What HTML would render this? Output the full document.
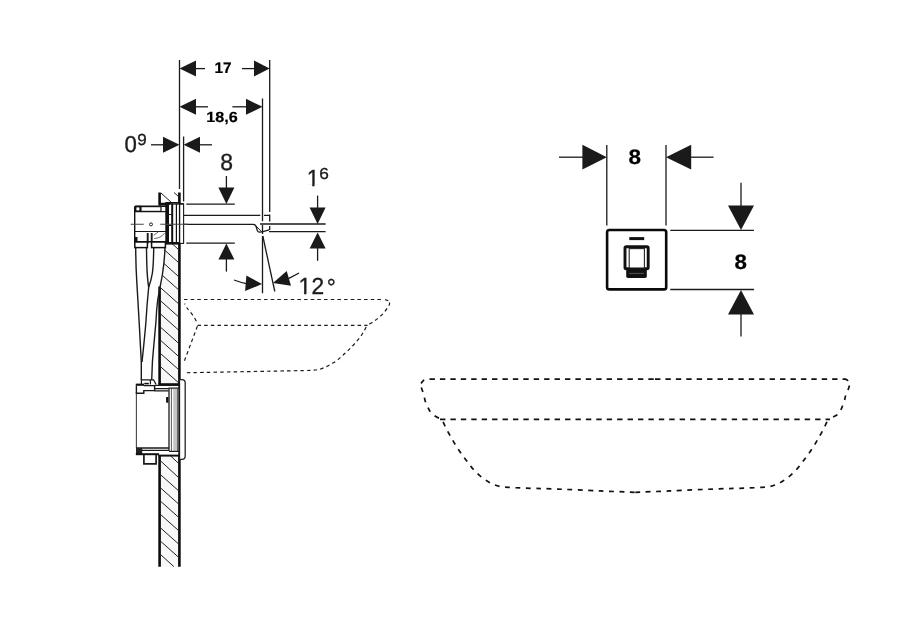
<!DOCTYPE html>
<html lang="en">
<head>
<meta charset="utf-8">
<title>Wall-mounted tap – dimensional drawing</title>
<style>
html,body{margin:0;padding:0;background:#fff;}
body{width:913px;height:630px;overflow:hidden;font-family:"Liberation Sans",sans-serif;}
svg{display:block;position:absolute;left:0;top:0;will-change:transform;}
.t{font-family:"Liberation Sans",sans-serif;fill:#1c1c1c;stroke:#1c1c1c;stroke-width:0.35;text-rendering:geometricPrecision;}
.b{font-weight:bold;fill:#000;stroke:#000;stroke-width:0.2;}
.ln{stroke:#1a1a1a;stroke-width:1.3;fill:none;}
.thin{stroke:#333;stroke-width:0.9;fill:none;}
.wall{stroke:#0d0d0d;stroke-width:2.6;fill:none;}
.hatch{stroke:#222;stroke-width:1;fill:none;}
.ar{fill:#1a1a1a;stroke:none;}
.ds{stroke:#1a1a1a;stroke-width:1.2;fill:none;stroke-dasharray:3.5 3.17;}
.df{stroke:#111;stroke-width:1.7;fill:none;stroke-dasharray:5.4 5.02;}
.m{stroke:#1a1a1a;stroke-width:1.2;fill:none;}
.hose{stroke:#1a1a1a;stroke-width:1.4;fill:none;}
.mk{stroke:#111;stroke-width:2;fill:none;}
</style>
</head>
<body>
<svg width="913" height="630" viewBox="0 0 913 630">
<rect width="913" height="630" fill="#fff"/>

<!-- ===== dimension lines (side view) ===== -->
<g id="dims-side">
  <path class="ln" d="M179.5 60V189"/>
  <path class="ln" d="M269.7 60V212M269.7 214.5V221.5M269.7 226V230"/>
  <path class="ln" d="M262.5 98.5V221.3M262.5 225V234M262.5 236V293.2"/>
  <path class="ln" d="M183.6 136.5V201.5"/>
  <path class="ln" d="M262.8 236L274.8 291.5"/>

  <!-- 17 -->
  <path class="ar" d="M179.5 68.6L196 60.6V76.6Z"/>
  <path class="ln" d="M196 68.6H205"/>
  <path class="ar" d="M269.6 68.6L254 60.6V76.6Z"/>
  <path class="ln" d="M242 68.6H254"/>
  <!-- 18,6 -->
  <path class="ar" d="M179.5 106.8L196 98.8V114.8Z"/>
  <path class="ln" d="M196 106.8H208"/>
  <path class="ar" d="M262.5 106.8L246 98.8V114.8Z"/>
  <path class="ln" d="M232.4 106.8H246"/>
  <!-- 0 9 -->
  <path class="ar" d="M179.5 144.8L163 136.8V152.8Z"/>
  <path class="ln" d="M151 144.8H163"/>
  <path class="ar" d="M183.6 144.8L200 136.8V152.8Z"/>
  <path class="ln" d="M200 144.8H212"/>
  <!-- 8 vertical -->
  <path class="ln" d="M186.3 204.1H234.8M186.3 243.2H234.8"/>
  <path class="ar" d="M226.4 204L218.4 187.6H234.4Z"/>
  <path class="ln" d="M226.4 176V188"/>
  <path class="ar" d="M226.4 243.5L218.4 259.6H234.4Z"/>
  <path class="ln" d="M226.4 259V271.6"/>
  <!-- 1 6 -->
  <path class="ln" d="M260 224H325.6M269 231.6H325.6"/>
  <path class="ar" d="M317.6 224L309.6 207.4H325.6Z"/>
  <path class="ln" d="M317.6 195.6V208"/>
  <path class="ar" d="M317.6 232.4L309.6 248.6H325.6Z"/>
  <path class="ln" d="M317.6 248V260.8"/>
  <!-- 12 deg -->
  <path class="ar" d="M262 284.1L246.4 275.6L245.1 291.1Z"/>
  <path class="ln" d="M234 280Q240 282.3 246.4 283.6"/>
  <path class="ar" d="M273 282.9L286.7 270.9L291 285.8Z"/>
  <path class="ln" d="M288.4 278.6L299.1 273"/>
</g>

<!-- ===== wall ===== -->
<g id="wall">
  <path d="M159.6 286H179.4V384H159.6ZM159.6 455H179.4V566.8H159.6ZM165 248H179.4V286H159.6Z" fill="#f8f8f8"/>
  <path class="wall" d="M159.6 192.5V205.5M159.6 286.5V384M159.6 455V566.8"/>
  <path class="wall" d="M179.4 192.5V204M179.4 243V384M179.4 455V566.8"/>
  <path class="hatch" d="M161 193L172 203M174 192.5L179 197"/>
  <path class="hatch" d="M172 243.5L178.5 249.5M164.5 250L178.5 262.5M164 263.5L178.5 276.5M162.5 275.5L178.5 289.7M160.3 287.5L178.5 303.7M160.3 300.6L178.5 316.8M160.3 313.8L178.5 330M160.3 327L178.5 343.2M160.3 340.1L178.5 356.3M160.3 353.3L178.5 369.5M160.3 366.5L178.5 382.7"/>
  <path class="hatch" d="M170.7 456L178.6 463.4M161 461.3L178.5 477.5M160.3 474.5L178.5 490.7M160.3 487.7L178.5 503.9M160.3 501L178.5 517.2M160.3 514.3L178.5 530.5M160.3 527.7L178.5 543.9M160.3 541L178.5 557.2M160.3 554.3L173.8 566.6"/>
</g>

<!-- ===== tap body (side view) ===== -->
<g id="tap-side">
  <!-- spout -->
  <path class="m" d="M183.6 215.3H260.3M264 215.3H269.7"/>
  <path class="m" style="stroke-width:1.3" d="M183.6 224.3H253Q255.7 224.4 256.3 227L257.3 230.6Q257.8 232.4 260 232.2L263 231.6L269.2 229.8"/>
  <path class="m" style="stroke-width:1" d="M254.5 224.6L261.5 231.6"/>
  <!-- cover plate -->
  <rect x="179.6" y="203.8" width="4" height="39.6" fill="#fff" stroke="#1a1a1a" stroke-width="1.1"/>
  <!-- flange stack -->
  <rect x="166" y="202.6" width="13.5" height="41.4" fill="#fff" stroke="#111" stroke-width="1.2"/>
  <path d="M159.6 202.8H172.5L168 205.6H159.6Z" fill="#111"/><path d="M168 203.2H183.6V204.6H168Z" fill="#111"/>
  <path d="M165.6 204H169V243.5H165.6Z" fill="#111"/>
  <path d="M171.2 204H173.2V243.5H171.2Z" fill="#111"/>
  <path d="M175.8 204H177V243.5H175.8Z" fill="#111"/>
  <path class="m" d="M166 214.5H172M166 225.5H172"/>
  <path d="M166 242H180V244H166Z" fill="#111"/>
  <!-- housing -->
  <rect x="134.7" y="206.2" width="31.3" height="35.6" rx="1.2" fill="#fff" stroke="#111" stroke-width="1.4"/>
  <path class="m" d="M134.6 211.6H166M134.6 231.5H166"/>
  <rect x="141" y="206.6" width="20" height="4.8" fill="#fff" stroke="#111" stroke-width="1.2"/>
  <rect x="135.6" y="206.6" width="4.6" height="4.6" fill="#fff" stroke="#111" stroke-width="1.6"/>
  <path class="m" style="stroke-width:1.9" d="M147.7 233V243.6M151.7 233V243.6"/>
  <path class="thin" style="stroke:#555" d="M154 238.4Q160.5 238.6 164.5 233.2M153.6 235.4L158.6 231.6"/>
  <circle cx="151" cy="224.4" r="1.5" fill="none" stroke="#222" stroke-width="1"/>
  <path class="thin" style="stroke-width:1.1;stroke:#444" d="M130.7 224.2H143.7M160.3 224.2H188"/>
  <!-- connectors -->
  <rect x="134.8" y="242" width="12.6" height="5.6" fill="#fff" stroke="#111" stroke-width="1.5"/>
  <rect x="151.6" y="242" width="13.8" height="5.6" fill="#fff" stroke="#111" stroke-width="1.5"/>
  <path d="M134 237H137.5V242H134Z" fill="#111"/>
  <!-- hoses -->
  <path class="hose" d="M135.7 248C135.8 262 136.2 272 136.7 280C137.4 294 138.4 308 139.1 321C139.9 335 140.6 349 141.3 362V380"/>
  <path class="hose" d="M146.5 248C146.6 258 146.8 268 147.4 276C147.8 281 148.2 284.5 148.7 287.3"/>
  <path class="hose" d="M153.7 248C153.6 258 153.3 266 152.4 273C151.5 279 150 283.5 148.7 287.3C147.6 298 146.6 310 146 321C144.8 336 143.3 350 142 362"/>
  <path class="hose" d="M164.9 248C164.7 257 163.8 266 162.4 274.5C161.2 281.5 159.4 290 157.7 300C156.8 307 156.3 314 156 321C154.8 335 153.4 349 152.4 362L151.7 380"/>
</g>

<!-- ===== lower box (side view) ===== -->
<g id="box-side">
  <path d="M179.5 379.6H182Q185.2 379.6 185.2 382.8V456Q185.2 459.3 182 459.3H179.5Z" fill="#fff" stroke="#222" stroke-width="1.3"/>
  <path class="m" style="stroke-width:1.6" d="M179.1 384V455"/>
  <path d="M173.2 389H176.8V451H173.2Z" fill="#c4c4c4"/>
  <path class="m" style="stroke-width:1.3" d="M169 388.5V451"/>
  <path class="thin" style="stroke:#444" d="M171.4 388.5V451M177.4 388.5V451"/>
  <path class="thin" style="stroke-width:1.1;stroke:#444" d="M136.4 392V448"/>
  <!-- top of box -->
  <path class="m" d="M141.4 384V379.8H153.6L156 384.4M150.4 379.8V384.4"/>
  <path d="M144.3 382.8H148.8V384.4H144.3Z" fill="#111"/>
  <path d="M135.8 383.6H144V385.8H135.8Z" fill="#111"/>
  <path d="M158.3 383.2H180V385.2H158.3Z" fill="#111"/>
  <path class="m" style="stroke-width:1.4" d="M136.4 385.5V393.2H143.8V390.6H154.6V385.6H143.8"/>
  <path class="m" d="M154.6 385.4H179M154.6 388.6H168.5M154.6 390.8H168.5M168.5 388.2H179"/>
  <path d="M166.1 397H168.4V402.7H166.1Z" fill="#111"/>
  <!-- bottom of box -->
  <path class="m" style="stroke-width:1.4" d="M136 448H169M136 450.4H169M141.5 448V454"/>
  <path d="M136 448H141.5V454.5H136Z" fill="#222"/>
  <path class="m" d="M169 451.4H179"/>
  <path d="M135.8 453.2H159V455.2H135.8Z" fill="#111"/>
  <path d="M158.3 454.6H180V456.6H158.3Z" fill="#111"/>
  <path class="m" style="stroke-width:1.7" d="M143.9 455V463.9H156.1V455"/>
</g>

<!-- ===== basin side view (dashed) ===== -->
<g id="basin-side">
  <path class="ds" d="M184 299.5H383.5"/>
  <path class="ds" style="stroke-dasharray:none" d="M385.2 299.6L388.3 300.8"/>
  <path class="ds" stroke-dashoffset="-1.6" d="M388.6 301.2C388.8 301.6 389.7 302.8 389.6 303.8C389.5 304.8 388.9 305.6 388.0 307.0C387.1 308.4 385.5 310.8 384.0 312.5C382.5 314.2 380.8 316.0 379.0 317.5C377.2 319.0 375.3 320.3 373.5 321.5C371.7 322.7 368.9 324.2 368.0 324.8"/>
  <path class="ds" d="M197.5 325.4H367.5"/>
  <path class="ds" stroke-dashoffset="2.4" d="M184.6 303.6C185.0 304.3 186.2 306.8 187.0 308.0C187.8 309.2 188.3 309.5 189.5 311.0C190.7 312.5 192.7 315.0 194.0 317.0C195.3 319.0 196.7 322.0 197.2 323.0"/>
  <path class="ds" stroke-dashoffset="-0.6" d="M197.6 325.6L184.4 360.8"/>
  <path class="ds" stroke-dashoffset="-1" d="M366.5 326.2C366.2 326.9 365.4 328.6 364.5 330.2C363.6 331.8 362.3 334.1 361.0 336.0C359.7 337.9 358.0 339.8 356.5 341.5C355.0 343.2 353.6 344.8 352.0 346.5C350.4 348.2 348.7 349.9 347.0 351.5C345.3 353.1 343.7 354.5 342.0 356.0C340.3 357.5 338.8 359.2 337.0 360.5C335.2 361.8 333.4 362.7 331.5 363.8C329.6 364.9 327.5 366.1 325.5 367.0C323.5 367.9 321.7 368.8 319.5 369.3C317.3 369.8 314.8 370.0 312.5 370.2C310.2 370.4 311.4 370.4 306.0 370.5C300.6 370.6 300.2 370.6 280.0 371.0C259.8 371.4 200.8 372.5 185.0 372.8"/>
</g>

<!-- ===== front view ===== -->
<g id="front">
  <path class="ln" d="M606.8 145V225.6M666 145V225.6"/>
  <path class="ar" d="M606.8 157.2L582.4 144.8V169.6Z"/>
  <path class="ln" d="M559 157.2H583"/>
  <path class="ar" d="M666 157.2L691.2 144.8V169.6Z"/>
  <path class="ln" d="M691 157.2H713.6"/>
  <path class="ln" d="M670.3 230.3H754M670.3 289.5H754"/>
  <path class="ar" d="M741 230L728 205.5H754Z"/>
  <path class="ln" d="M741 182.8V206"/>
  <path class="ar" d="M741 290L728 314.4H754Z"/>
  <path class="ln" d="M741 314V336.6"/>
  <rect x="607.1" y="230" width="59.1" height="59.4" rx="2.2" ry="2.2" fill="#fff" stroke="#0a0a0a" stroke-width="2.6"/>
  <rect x="629.3" y="237.1" width="14.9" height="3" fill="#111"/>
  <rect x="625" y="246.8" width="23.2" height="22" rx="1.2" fill="#fff" stroke="#111" stroke-width="2.9"/>
  <rect x="629.2" y="248.6" width="15.2" height="19.4" fill="#fff" stroke="#222" stroke-width="1.1"/>
  <path d="M626.2 268.2H646.8V276.2Q646.8 278 645 278H628Q626.2 278 626.2 276.2Z" fill="#111"/>
  <path d="M629 273.4H644" stroke="#666" stroke-width="0.8"/>
</g>

<!-- ===== basin front view (dashed) ===== -->
<g id="basin-front">
  <path class="df" d="M429.5 379.2H654"/>
  <path class="df" d="M655 379.2H845.5"/>
  <path class="df" style="stroke-dasharray:none" d="M421 383.4L424 379.8M845 379.2Q847.3 379.5 848 381"/>
  <path class="df" style="stroke-dasharray:4.8 5.8" d="M421.3 387.5C421.6 388.3 422.5 390.8 423.0 392.5C423.5 394.2 424.1 396.3 424.5 398.0C424.9 399.7 425.1 400.9 425.7 402.5C426.3 404.1 427.2 405.9 428.0 407.5C428.8 409.1 429.3 410.6 430.5 412.0C431.7 413.4 433.4 414.9 435.0 416.0C436.6 417.1 439.2 418.2 440.0 418.6"/>
  <path class="df" style="stroke-dasharray:4.8 5.8" d="M849.5 385.5C849.2 386.2 848.7 388.2 848.0 390.0C847.3 391.8 846.1 394.2 845.5 396.0C844.9 397.8 845.0 398.8 844.5 400.5C844.0 402.2 843.1 404.5 842.5 406.0C841.9 407.5 841.8 408.1 841.0 409.5C840.2 410.9 838.8 413.2 837.5 414.5C836.2 415.8 834.2 416.4 833.0 417.0C831.8 417.6 830.9 418.2 830.5 418.4"/>
  <path class="df" d="M440 419.3H830"/>
  <path class="df" style="stroke-dasharray:4.8 5.6" stroke-dashoffset="-1.5" d="M442.6 420.6C443.0 421.5 443.8 423.5 445.0 426.0C446.2 428.5 448.2 432.3 450.0 435.5C451.8 438.7 453.6 441.9 455.5 445.0C457.4 448.1 459.5 451.2 461.5 454.0C463.5 456.8 465.5 459.4 467.5 462.0C469.5 464.6 471.2 467.0 473.5 469.5C475.8 472.0 478.7 474.8 481.5 477.0C484.3 479.2 487.4 481.4 490.5 483.0C493.6 484.6 496.6 485.8 500.0 486.5C503.4 487.2 505.8 487.2 511.0 487.5C516.2 487.8 524.2 488.1 531.0 488.3C537.8 488.5 540.5 488.5 552.0 488.9C563.5 489.3 586.2 490.3 600.0 490.9C613.8 491.5 629.2 492.1 635.0 492.4"/>
  <path class="df" style="stroke-dasharray:4.8 5.6" stroke-dashoffset="-1.5" d="M827.4 420.6C827.0 421.5 826.2 423.5 825.0 426.0C823.8 428.5 821.8 432.3 820.0 435.5C818.2 438.7 816.4 441.9 814.5 445.0C812.6 448.1 810.5 451.2 808.5 454.0C806.5 456.8 804.5 459.4 802.5 462.0C800.5 464.6 798.8 467.0 796.5 469.5C794.2 472.0 791.3 474.8 788.5 477.0C785.7 479.2 782.6 481.4 779.5 483.0C776.4 484.6 773.4 485.8 770.0 486.5C766.6 487.2 764.2 487.2 759.0 487.5C753.8 487.8 745.8 488.1 739.0 488.3C732.2 488.5 729.5 488.5 718.0 488.9C706.5 489.3 683.8 490.3 670.0 490.9C656.2 491.5 640.8 492.1 635.0 492.4"/>
</g>

<!-- ===== labels ===== -->
<g id="labels">
  <text class="t b" transform="translate(214.43 73.45) scale(0.997 1)" font-size="15.44">17</text>
  <text class="t b" transform="translate(206.2 122.45) scale(1.1 1)" font-size="14.7">18,6</text>
  <text class="t" transform="translate(124.5 151.85) scale(0.962 1)" font-size="23.1">0</text>
  <text class="t" transform="translate(137.25 145.4) scale(1.069 1)" font-size="15.96">9</text>
  <text class="t" transform="translate(220.15 170.3) scale(0.99 1)" font-size="23.2">8</text>
  <text class="t" transform="translate(306.71 186.25) scale(0.98 1)" font-size="23.2">1</text>
  <text class="t" transform="translate(319.35 179.3) scale(1.076 1)" font-size="16">6</text>
  <text class="t" transform="translate(298.61 294.25) scale(0.98 1)" font-size="23.2">1<tspan x="13.19">2</tspan><tspan x="28.76" dy="0.8">°</tspan></text>
  <text class="t b" transform="translate(628.47 163.85) scale(1.074 1)" font-size="20.94">8</text>
  <text class="t b" transform="translate(734.41 268.8) scale(1.067 1)" font-size="20.91">8</text>
</g>
<!-- trim the serif foot of the digit 1 so it reads like the drawing's grotesque face -->
<g id="trim" fill="#fff">
  <rect x="307.6" y="184.05" width="4.6" height="3"/>
  <rect x="314.55" y="184.05" width="4.5" height="3"/>
  <rect x="299.5" y="292.05" width="4.6" height="3"/>
  <rect x="306.45" y="292.05" width="4.5" height="3"/>
</g>
</svg>
</body>
</html>
